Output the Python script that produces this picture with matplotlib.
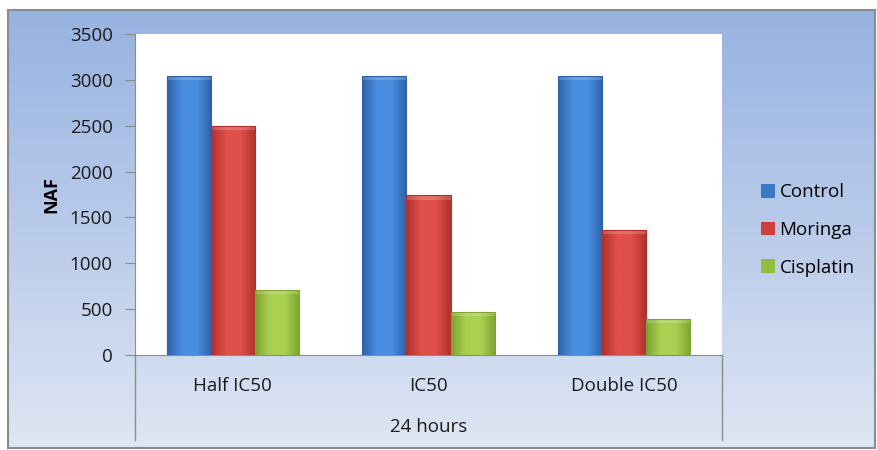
import numpy as np
import matplotlib.pyplot as plt
from matplotlib.patches import Rectangle
from matplotlib.colors import LinearSegmentedColormap

groups = ['Half IC50', 'IC50', 'Double IC50']
outer_label = '24 hours'
series = ['Control', 'Moringa', 'Cisplatin']
control = [3040, 3040, 3040]
moringa = [2500, 1740, 1360]
cisplatin = [710, 470, 390]
yticks = [0, 500, 1000, 1500, 2000, 2500, 3000, 3500]

colors = {
    'Control': ('#2d62a8', '#4a8ee0'),
    'Moringa': ('#b0302c', '#e0504a'),
    'Cisplatin': ('#7ea431', '#aad052'),
}
legend_colors = {'Control': '#3a78c8', 'Moringa': '#d0403a', 'Cisplatin': '#93be3f'}

plt.rcParams['font.family'] = ['Open Sans', 'DejaVu Sans']

fig = plt.figure(figsize=(8.78, 4.5), dpi=100)

# background gradient inside the chart border
bg = fig.add_axes([0, 0, 1, 1], zorder=-10)
bg.set_xlim(0, 878)
bg.set_ylim(450, 0)
bg.axis('off')
grad = np.linspace(0, 1, 256).reshape(-1, 1)
bg_cmap = LinearSegmentedColormap.from_list('bg', ['#97b3e1', '#b9cbea', '#dfe6f4'])
bg.imshow(grad, cmap=bg_cmap, aspect='auto', extent=(8, 875, 448, 10))
bg.add_patch(Rectangle((8, 10), 867, 438, fill=False, edgecolor='#8c8c8c', lw=1.5))
# category area lines below the axis
bg.plot([135, 135], [355, 440], color='#8c8c8c', lw=1)
bg.plot([722, 722], [355, 440], color='#8c8c8c', lw=1)

ax = fig.add_axes([135 / 878, 1 - 355 / 450, 587 / 878, 321 / 450])
ax.set_facecolor('white')

x = np.arange(len(groups))
w = 0.225
data = [control, moringa, cisplatin]
for i, (name, vals) in enumerate(zip(series, data)):
    bars = ax.bar(x + (i - 1) * w, vals, w, color=legend_colors[name], label=name,
                  edgecolor='none', zorder=2)
    dark, light = colors[name]
    cm = LinearSegmentedColormap.from_list(name, [dark, light, light, dark])
    hgrad = np.linspace(0, 1, 64).reshape(1, -1)
    for b in bars:
        bx, by = b.get_x(), b.get_y()
        bw, bh = b.get_width(), b.get_height()
        im = ax.imshow(hgrad, cmap=cm, aspect='auto', extent=(bx, bx + bw, by, by + bh),
                       zorder=3)
        im.set_clip_path(b)
        # lighter bevel on top
        top = Rectangle((bx, by + bh - 45), bw, 45, facecolor='white', alpha=0.18,
                        edgecolor='none', zorder=4)
        ax.add_patch(top)
        ax.add_patch(Rectangle((bx, by), bw, bh, fill=False, edgecolor=dark,
                               lw=0.8, zorder=5))

ax.set_xlim(-0.5, 2.5)
ax.set_ylim(0, 3500)
ax.set_yticks(yticks)
ax.set_yticklabels([str(t) for t in yticks], fontsize=13.5, color='#1a1a1a')
ax.tick_params(axis='y', length=7, color='#8c8c8c', pad=9)
ax.set_xticks([])
for s in ['top', 'right']:
    ax.spines[s].set_visible(False)
ax.spines['left'].set_color('#8c8c8c')
ax.spines['bottom'].set_color('#8c8c8c')

ax.set_ylabel('NAF', fontsize=13, fontweight='bold', labelpad=7)

for xi, g in zip(x, groups):
    ax.annotate(g, (xi, 0), xycoords='data', xytext=(0, -22), textcoords='offset points',
                ha='center', va='center', fontsize=13.5, color='#1a1a1a',
                annotation_clip=False)
ax.annotate(outer_label, (1, 0), xycoords='data', xytext=(0, -52),
            textcoords='offset points', ha='center', va='center', fontsize=13.5,
            color='#1a1a1a', annotation_clip=False)

handles, labels = ax.get_legend_handles_labels()
leg = fig.legend(handles, labels, loc='center left', bbox_to_anchor=(744 / 878, 1 - 230 / 450),
                 frameon=False, fontsize=13.5, handlelength=0.75, handleheight=0.75,
                 handletextpad=0.25, labelspacing=1.05)

fig.savefig('out.png', dpi=100)
